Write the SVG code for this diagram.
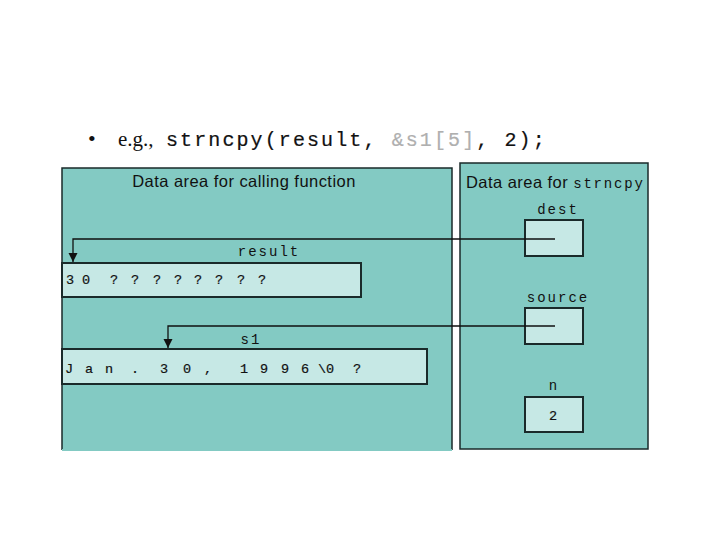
<svg xmlns="http://www.w3.org/2000/svg" width="720" height="540" viewBox="0 0 720 540">
<style>
.panel{fill:#83CAC3;stroke:#1a2a2a;stroke-width:1.5}
.box{fill:#C6E8E5;stroke:#1a2a2a;stroke-width:2}
.sans{font-family:"Liberation Sans",Arial,sans-serif;font-size:16.5px;letter-spacing:0.45px;fill:#111}
.mono{font-family:"Liberation Mono","Courier New",monospace;font-size:14px;letter-spacing:2px;fill:#111}
.cell{font-family:"Liberation Mono","Courier New",monospace;font-size:13.5px;fill:#111;stroke:#111;stroke-width:0.2}
.conn{fill:none;stroke:#111;stroke-width:1.3}
</style>
<defs>
<marker id="arr" viewBox="0 0 10 10" refX="10" refY="5" markerWidth="9" markerHeight="10" markerUnits="userSpaceOnUse" orient="auto">
<path d="M0,0 L10,5 L0,10 z" fill="#111"/>
</marker>
</defs>
<rect width="720" height="540" fill="#fff"/>
<g id="title">
<text x="88" y="146" font-family="'Liberation Serif','Times New Roman',serif" font-size="22" fill="#111">•</text>
<text x="118" y="146" font-family="'Liberation Serif','Times New Roman',serif" font-size="21" fill="#111">e.g.,</text>
<text x="166" y="146" font-family="'Liberation Mono','Courier New',monospace" font-size="20" letter-spacing="2.1" fill="#111" stroke="#111" stroke-width="0.2">strncpy(result, <tspan fill="#AFAFAF" stroke="#AFAFAF">&amp;s1[5]</tspan>, 2);</text>
</g>
<g id="calling-area">
<path d="M62,450 L62,168 L452,168 L452,450" fill="#83CAC3" stroke="#1a2a2a" stroke-width="1.5"/>
<rect x="62" y="449" width="390" height="2" fill="#83CAC3"/>
<text class="sans" x="244" y="187" text-anchor="middle">Data area for calling function</text>
</g>
<g id="result">
<text class="mono" x="269" y="256" text-anchor="middle">result</text>
<rect class="box" x="62" y="263" width="299" height="34"/>
<text class="cell" y="284"><tspan x="66">3</tspan><tspan x="82">0</tspan><tspan x="110">?</tspan><tspan x="131">?</tspan><tspan x="153">?</tspan><tspan x="174">?</tspan><tspan x="194">?</tspan><tspan x="215">?</tspan><tspan x="237">?</tspan><tspan x="258">?</tspan></text>
</g>
<g id="s1">
<text class="mono" x="251" y="344" text-anchor="middle">s1</text>
<rect class="box" x="62" y="349" width="365" height="35"/>
<text class="cell" y="373"><tspan x="65">J</tspan><tspan x="85">a</tspan><tspan x="105">n</tspan><tspan x="131">.</tspan><tspan x="160">3</tspan><tspan x="183">0</tspan><tspan x="204">,</tspan><tspan x="240">1</tspan><tspan x="260">9</tspan><tspan x="281">9</tspan><tspan x="301">6</tspan><tspan x="318">\0</tspan><tspan x="353">?</tspan></text>
</g>
<g id="strncpy-area">
<rect class="panel" x="460" y="163" width="188" height="286"/>
<text class="sans" x="466" y="188">Data area for <tspan font-family="'Liberation Mono','Courier New',monospace" font-size="14" letter-spacing="1.8">strncpy</tspan></text>
</g>
<g id="dest">
<text class="mono" x="558" y="214" text-anchor="middle">dest</text>
<rect class="box" x="525" y="220" width="58" height="36"/>
</g>
<g id="source">
<text class="mono" x="558" y="302" text-anchor="middle">source</text>
<rect class="box" x="525" y="308" width="58" height="36"/>
</g>
<g id="n">
<text class="mono" x="554" y="390" text-anchor="middle">n</text>
<rect class="box" x="525" y="397" width="58" height="35"/>
<text class="cell" x="553" y="420" text-anchor="middle">2</text>
</g>
<g id="connectors">
<polyline class="conn" points="555,239 73,239 73,262" marker-end="url(#arr)"/>
<polyline class="conn" points="555,326 168,326 168,348" marker-end="url(#arr)"/>
</g>
</svg>
